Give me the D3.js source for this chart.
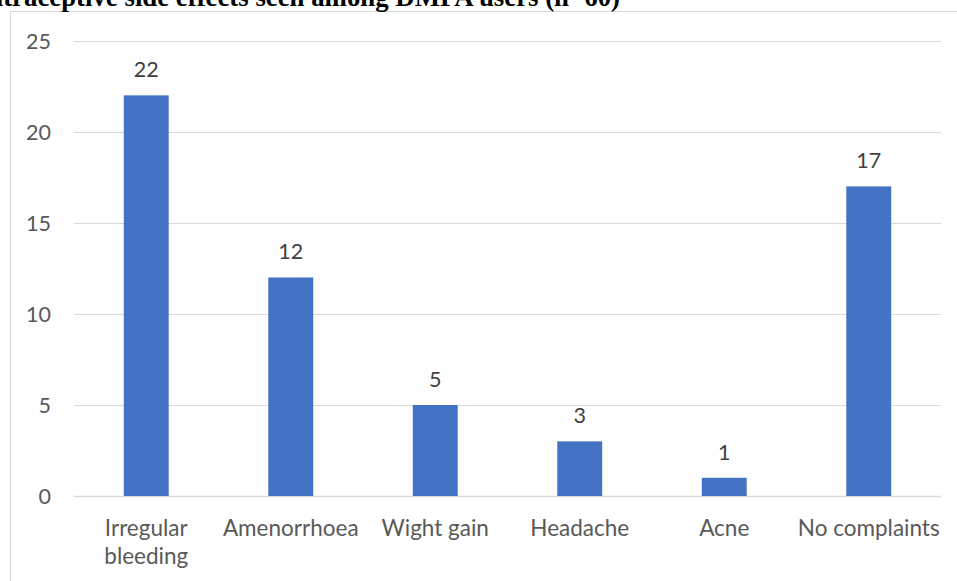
<!DOCTYPE html>
<html>
<head>
<meta charset="utf-8">
<script src="https://cdn.jsdelivr.net/npm/d3@7"></script>
<style>
  html, body { margin: 0; padding: 0; background: #fff; }
  svg { display: block; }
</style>
</head>
<body>
<svg id="chart" width="957" height="581"></svg>
<script>
// Side effects reported by DMPA users
const categories = ["Irregular bleeding", "Amenorrhoea", "Wight gain", "Headache", "Acne", "No complaints"];
const counts = [22, 12, 5, 3, 1, 17];
const yTicks = [0, 5, 10, 15, 20, 25];
const titleText = "Contraceptive side effects seen among DMPA users (n=60)";

const W = 957, H = 581;
const svg = d3.select("#chart");
const font = "Lato, 'Open Sans', sans-serif";

// chart frame
svg.append("rect")
  .attr("x", 10.5).attr("y", 11.5)
  .attr("width", W + 20).attr("height", H + 20)
  .attr("fill", "none").attr("stroke", "#d9d9d9").attr("stroke-width", 1);

// heading
svg.append("text")
  .attr("x", 620).attr("y", 6)
  .attr("text-anchor", "end")
  .style("font-family", "'Liberation Serif', 'Times New Roman', serif")
  .style("font-weight", "bold")
  .style("font-size", "26.8px")
  .attr("fill", "#000")
  .text(titleText);

const x = d3.scaleBand()
  .domain(categories)
  .range([74, 941])
  .paddingInner(0.689)
  .paddingOuter(0.3445);

const y = d3.scaleLinear().domain([0, 25]).range([496, 40.7]);

// gridlines
svg.append("g")
  .selectAll("line")
  .data(yTicks)
  .join("line")
  .attr("x1", 74).attr("x2", 941)
  .attr("y1", d => Math.round(y(d)) + 0.5)
  .attr("y2", d => Math.round(y(d)) + 0.5)
  .attr("stroke", "#d9d9d9")
  .attr("stroke-width", d => d === 0 ? 1.5 : 1);

// y tick labels
const yAxis = d3.axisLeft(y).tickValues(yTicks).tickSize(0).tickPadding(0);
const gy = svg.append("g").attr("transform", "translate(51,0)").call(yAxis);
gy.select(".domain").remove();
gy.selectAll("text")
  .style("font-family", font)
  .style("font-size", "21.5px")
  .attr("fill", "#595959")
  .attr("dy", "0.36em");

// bars
svg.append("g")
  .selectAll("rect")
  .data(counts)
  .join("rect")
  .attr("x", (d, i) => x(categories[i]))
  .attr("width", x.bandwidth())
  .attr("y", d => y(d))
  .attr("height", d => y(0) - y(d))
  .attr("fill", "#4472c4");

// value labels
svg.append("g")
  .selectAll("text")
  .data(counts)
  .join("text")
  .attr("x", (d, i) => x(categories[i]) + x.bandwidth() / 2)
  .attr("y", d => y(d) - 18)
  .attr("text-anchor", "middle")
  .style("font-family", font)
  .style("font-size", "21.5px")
  .attr("fill", "#404040")
  .text(d => d);

// category labels (wrapped where needed)
const wrapLines = { "Irregular bleeding": ["Irregular", "bleeding"] };
const cat = svg.append("g")
  .selectAll("text")
  .data(categories)
  .join("text")
  .attr("x", d => x(d) + x.bandwidth() / 2)
  .attr("y", 536)
  .attr("text-anchor", "middle")
  .style("font-family", font)
  .style("font-size", "22.5px")
  .attr("fill", "#595959");
cat.each(function(d) {
  const lines = wrapLines[d] || [d];
  const t = d3.select(this);
  lines.forEach((ln, k) => {
    t.append("tspan")
      .attr("x", x(d) + x.bandwidth() / 2)
      .attr("dy", k === 0 ? 0 : 28)
      .text(ln);
  });
});
</script>
</body>
</html>
